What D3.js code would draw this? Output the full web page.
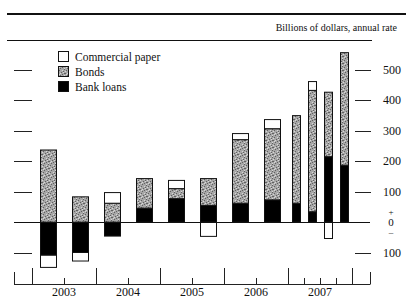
<!DOCTYPE html>
<meta charset="utf-8">
<style>
    body { margin: 0; background: #fff; }
    text { font-family: "Liberation Serif", serif; fill: #111; }
</style>
<script src="https://d3js.org/d3.v7.min.js"></script>
<svg width="406" height="299"></svg>
<script>

    // period start (in years) and length of each bar's period
    var periodStart = [2003, 2003.5, 2004, 2004.5, 2005, 2005.5, 2006, 2006.5, 2007, 2007.25, 2007.5, 2007.75];
    var periodLen = [0.5, 0.5, 0.5, 0.5, 0.5, 0.5, 0.5, 0.5, 0.25, 0.25, 0.25, 0.25];

    // billions of dollars, annual rate
    var bankLoans = [-109, -100, -46, 46, 77, 55, 62, 73, 62, 34, 215, 187];
    var bonds = [237, 83, 62, 97, 33, 88, 209, 234, 288, 399, 212, 370];
    var commercialPaper = [-40, -28, 35, 0, 27, -47, 20, 30, 0, 29, -54, 0];

    var years = [2003, 2004, 2005, 2006, 2007];
    var yTicks = [500, 400, 300, 200, 100, -100];

    var series = [
        {name: "Commercial paper", values: commercialPaper, fill: "#fff"},
        {name: "Bonds", values: bonds, fill: "url(#stipple)"},
        {name: "Bank loans", values: bankLoans, fill: "#000"}
    ];
    var stackOrder = [series[2], series[1], series[0]];

    var svg = d3.select("svg");

    // grainy grey fill for the bonds bars (fixed dot layout)
    var pat = svg.append("defs").append("pattern")
        .attr("id", "stipple")
        .attr("patternUnits", "userSpaceOnUse")
        .attr("width", 7).attr("height", 7);
    pat.append("rect").attr("width", 7).attr("height", 7).attr("fill", "#a6a6a6");
    [[0, 0], [4, 1], [2, 2], [6, 3], [1, 4], [5, 5], [3, 6], [6, 0]].forEach(function (p) {
        pat.append("rect").attr("x", p[0]).attr("y", p[1])
            .attr("width", 1).attr("height", 1).attr("fill", "#606060");
    });
    [[2, 0], [6, 2], [4, 4], [0, 5], [1, 1], [5, 6]].forEach(function (p) {
        pat.append("rect").attr("x", p[0]).attr("y", p[1])
            .attr("width", 1).attr("height", 1).attr("fill", "#d6d6d6");
    });

    var x = d3.scaleLinear().domain([2003, 2008]).range([32, 352]);
    var y = d3.scaleLinear().domain([-100, 500]).range([252.5, 70]);
    var x0 = 14, x1 = 370;

    // header rules and unit note
    svg.append("line").attr("x1", 7).attr("x2", 406).attr("y1", 14).attr("y2", 14)
        .attr("stroke", "#111").attr("stroke-width", 2);
    svg.append("text").attr("x", 397).attr("y", 31).attr("text-anchor", "end")
        .style("font-size", "10px").text("Billions of dollars, annual rate");
    svg.append("line").attr("x1", 7).attr("x2", 372).attr("y1", 40.5).attr("y2", 40.5)
        .attr("stroke", "#111").attr("stroke-width", 1);

    // left and right tick dashes
    var ticks = svg.append("g").attr("stroke", "#222").attr("stroke-width", 1);
    ticks.selectAll(".lt").data(yTicks).enter().append("line")
        .attr("x1", 14).attr("x2", 32)
        .attr("y1", function (d) { return Math.round(y(d)) + 0.5; })
        .attr("y2", function (d) { return Math.round(y(d)) + 0.5; });
    ticks.selectAll(".rt").data(yTicks).enter().append("line")
        .attr("x1", 355).attr("x2", 371)
        .attr("y1", function (d) { return Math.round(y(d)) + 0.5; })
        .attr("y2", function (d) { return Math.round(y(d)) + 0.5; });

    svg.append("g").selectAll("text").data(yTicks).enter().append("text")
        .attr("x", 401).attr("y", function (d) { return y(d) + 4; })
        .attr("text-anchor", "end").style("font-size", "12px")
        .text(function (d) { return Math.abs(d); });

    var zl = svg.append("g").attr("text-anchor", "middle");
    zl.append("text").attr("x", 391).attr("y", y(0) - 7).style("font-size", "9px").text("+");
    zl.append("text").attr("x", 391).attr("y", y(0) + 4).style("font-size", "11px").text("0");
    zl.append("text").attr("x", 391).attr("y", y(0) + 13).style("font-size", "9px").text("\u2013");

    // stacked bars
    var bars = svg.append("g");
    periodStart.forEach(function (p, i) {
        var w = x(p + periodLen[i]) - x(p);
        var bx = x(p) + w * 0.25;
        var pos = 0, neg = 0;
        stackOrder.forEach(function (s) {
            var v = s.values[i];
            if (!v) return;
            var a, b;
            if (v > 0) { a = pos; b = pos + v; pos = b; }
            else { a = neg; b = neg + v; neg = b; }
            bars.append("rect")
                .attr("x", Math.round(bx) + 0.5)
                .attr("width", Math.round(w * 0.5))
                .attr("y", Math.min(y(a), y(b)))
                .attr("height", Math.abs(y(a) - y(b)))
                .attr("fill", s.fill)
                .attr("stroke", "#111")
                .attr("stroke-width", 1);
        });
    });

    // zero line
    svg.append("line").attr("x1", x0).attr("x2", x1)
        .attr("y1", Math.round(y(0)) + 0.5).attr("y2", Math.round(y(0)) + 0.5)
        .attr("stroke", "#111").attr("stroke-width", 1.2);

    // time axis at the bottom
    var axisY = 284.5;
    var ax = svg.append("g").attr("stroke", "#222").attr("stroke-width", 1);
    ax.append("line").attr("x1", x0).attr("x2", x1).attr("y1", axisY).attr("y2", axisY);
    [x0, x1].forEach(function (px) {
        ax.append("line").attr("x1", px + 0.5).attr("x2", px + 0.5).attr("y1", 272).attr("y2", axisY);
    });
    years.concat([2008]).forEach(function (yr) {
        var px = Math.round(x(yr)) + 0.5;
        ax.append("line").attr("x1", px).attr("x2", px).attr("y1", 268).attr("y2", axisY);
    });
    periodStart.forEach(function (p) {
        if (p % 1 === 0) return;
        var px = Math.round(x(p)) + 0.5;
        ax.append("line").attr("x1", px).attr("x2", px).attr("y1", 278).attr("y2", axisY);
    });

    svg.append("g").selectAll("text").data(years).enter().append("text")
        .attr("x", function (d) { return x(d + 0.5); })
        .attr("y", 296).attr("text-anchor", "middle").style("font-size", "12px")
        .text(function (d) { return d; });

    // legend
    var leg = svg.append("g").selectAll("g").data(series).enter().append("g")
        .attr("transform", function (d, i) { return "translate(58," + (51 + i * 15) + ")"; });
    leg.append("rect").attr("x", 0.5).attr("y", 0.5).attr("width", 10).attr("height", 10)
        .attr("fill", function (d) { return d.fill; })
        .attr("stroke", "#111");
    leg.append("text").attr("x", 17).attr("y", 9.5).style("font-size", "11.5px")
        .text(function (d) { return d.name; });

</script>
